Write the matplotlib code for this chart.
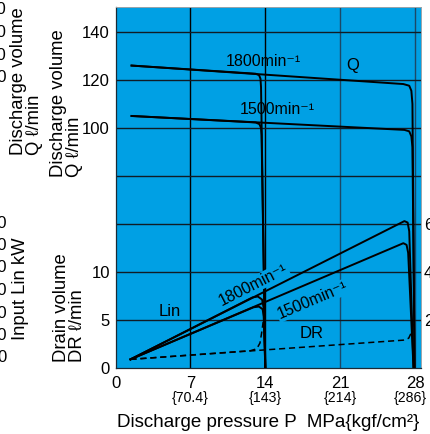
import matplotlib
matplotlib.use('Agg')
import matplotlib.pyplot as plt
import matplotlib.transforms as mtransforms

plt.rcParams['font.family'] = ['Liberation Sans', 'DejaVu Sans']

# 吐出壓力 P (MPa) 與各曲線讀值
# 吐出量 Q (l/min)，28 MPa 截止
p_q1800 = [1.5, 26.9, 27.45, 27.65, 27.75, 27.95]
q1800 = [126.0, 118.3, 117.6, 115.5, 110.0, 0.0]
p_q1500 = [1.5, 27.0, 27.45, 27.65, 27.75, 27.95]
q1500 = [105.0, 99.2, 98.6, 96.5, 92.0, 0.0]
# 吐出量 Q，14 MPa 截止
p_q1800_14 = [1.5, 13.1, 13.42, 13.55, 13.6, 14.0]
q1800_14 = [126.0, 122.6, 122.0, 120.5, 117.0, 0.0]
p_q1500_14 = [1.5, 13.1, 13.45, 13.6, 13.65, 14.0]
q1500_14 = [105.0, 102.3, 101.6, 100.0, 97.0, 0.0]

# 輸入動力 Lin (kW)
p_lin1800 = [1.4, 27.0, 27.3, 27.45, 27.85]
lin1800 = [3.6, 61.2, 60.6, 57.0, 0.0]
p_lin1500 = [1.4, 26.9, 27.2, 27.35, 27.85]
lin1500 = [3.6, 52.0, 51.3, 48.0, 0.0]
p_lin1800_14 = [1.4, 12.8, 13.3, 13.7, 13.85, 14.0]
lin1800_14 = [3.6, 29.4, 29.8, 28.5, 25.0, 0.0]
p_lin1500_14 = [1.4, 12.9, 13.4, 13.75, 13.85, 14.0]
lin1500_14 = [3.6, 25.3, 25.6, 24.5, 21.5, 0.0]

# 洩油量 DR (l/min)
p_dr = [1.4, 26.9, 27.4, 27.65, 27.85]
dr = [0.9, 2.9, 3.1, 3.7, 4.9]
p_dr_14 = [1.4, 12.6, 13.2, 13.5, 13.65, 13.8]
dr_14 = [0.9, 1.8, 2.0, 2.6, 3.6, 4.8]

x_ticks = [0, 7, 14, 21, 28]
x_kgf = ['', '{70.4}', '{143}', '{214}', '{286}']
q_ticks = [0, 20, 40, 60, 80, 100, 120, 140]
q_labels = ['0', '5', '10', '', '', '100', '120', '140']
lin_ticks = [20, 40, 60]
lin_labels = ['20', '40', '60']
DR_SCALE = 4.0  # DR 軸 5 l/min 對應 Q 軸 20

BLUE = '#00a0e4'
W, H = 430, 434

fig = plt.figure(figsize=(W / 100, H / 100), dpi=100)
ax = fig.add_axes([115.5 / W, 1 - 368 / H, (421 - 115.5) / W, (368 - 7) / H])
ax.set_facecolor(BLUE)
ax.set_xlim(0, 28.55)
ax.set_ylim(0, 150.4)

# 網格
for x in x_ticks[1:]:
    col = 'black' if x < 20 else '#1c4866'
    ax.axvline(x, color=col, lw=1.0, zorder=1)
for y in q_ticks[1:]:
    ax.axhline(y, color='#101c26', lw=1.0, zorder=1)

# 曲線
kw = dict(color='black', lw=1.4, zorder=3, solid_joinstyle='round')
ax.plot(p_q1800, q1800, **kw)
ax.plot(p_q1500, q1500, **kw)
ax.plot(p_q1800_14, q1800_14, **kw)
ax.plot(p_q1500_14, q1500_14, **kw)
ax.plot(p_lin1800, lin1800, **kw)
ax.plot(p_lin1500, lin1500, **kw)
ax.plot(p_lin1800_14, lin1800_14, **kw)
ax.plot(p_lin1500_14, lin1500_14, **kw)
ax.plot(p_dr, [v * DR_SCALE for v in dr], color='black', lw=1.1,
        ls=(0, (4, 2.5)), zorder=3)
ax.plot(p_dr_14, [v * DR_SCALE for v in dr_14], color='black', lw=1.1,
        ls=(0, (4, 2.5)), zorder=3)

# 曲線標籤
box = dict(facecolor=BLUE, edgecolor='none', pad=0.5)
ax.text(13.8, 127.5, '1800min⁻¹', fontsize=11.5, ha='center', va='center', zorder=4)
ax.text(22.2, 126.0, 'Q', fontsize=12, ha='center', va='center', zorder=4)
ax.text(15.1, 107.5, '1500min⁻¹', fontsize=11.5, ha='center', va='center', zorder=4)
ax.text(12.9, 34.6, '1800min⁻¹', fontsize=11.5, ha='center', va='center',
        rotation=27, rotation_mode='anchor', bbox=box, zorder=4)
ax.text(18.4, 28.1, '1500min⁻¹', fontsize=11.5, ha='center', va='center',
        rotation=23, rotation_mode='anchor', bbox=box, zorder=4)
ax.text(5.1, 23.7, 'Lin', fontsize=12, ha='center', va='center', zorder=4)
ax.text(18.3, 14.2, 'DR', fontsize=12, ha='center', va='center', zorder=4)

# 座標軸
ax.set_xticks(x_ticks)
ax.set_xticklabels([str(x) for x in x_ticks])
ax.set_yticks(q_ticks)
ax.set_yticklabels(q_labels)
ax.tick_params(length=0, labelsize=12, pad=4)
ax.tick_params(axis='x', pad=6)
trans = mtransforms.blended_transform_factory(ax.transData, ax.transAxes)
for x, lab in zip(x_ticks, x_kgf):
    xpos = min(x, 27.55)  # 右端的 {286} 往內收
    ax.text(xpos, -0.083, lab, transform=trans, fontsize=10.2,
            ha='center', va='center')
ax.set_xlabel('Discharge pressure P  MPa{kgf/cm²}', fontsize=13.5, labelpad=16)
for s in ['left', 'bottom']:
    ax.spines[s].set_color('#1a2a36')
    ax.spines[s].set_linewidth(0.9)
for s in ['top', 'right']:
    ax.spines[s].set_color('#9aa4aa')
    ax.spines[s].set_linewidth(0.7)

ax2 = ax.twinx()
ax2.set_ylim(ax.get_ylim())
ax2.set_yticks(lin_ticks)
ax2.set_yticklabels(lin_labels)
ax2.tick_params(length=0, labelsize=12, pad=2)
for s in ax2.spines.values():
    s.set_visible(False)

# 軸標題（內側）
lab_kw = dict(fontsize=13.3, rotation=90, ha='left', va='bottom',
              multialignment='left', linespacing=0.9)
fig.text(50 / W, 1 - 177 / H, 'Discharge volume\nQ ℓ/min', **lab_kw)
fig.text(53 / W, 1 - 362 / H, 'Drain volume\nDR ℓ/min', **lab_kw)

# 左側被裁切的外側軸
fig.text(10 / W, 1 - 155 / H, 'Discharge volume\nQ ℓ/min', **lab_kw)
fig.text(12 / W, 1 - 340 / H, 'Input Lin kW', fontsize=13.3, rotation=90,
         ha='left', va='bottom')
outer_q = ['140', '120', '100', '80']
outer_q_y = [10, 32.5, 55, 77.5]
outer_lin = ['60', '50', '40', '30', '20', '10', '0']
outer_lin_y = [223, 245.5, 268, 290.5, 313, 335.5, 358]
for lab, y in zip(outer_q + outer_lin, outer_q_y + outer_lin_y):
    fig.text(7 / W, 1 - y / H, lab, fontsize=12, ha='right', va='center')

fig.savefig('out.png', dpi=100)
